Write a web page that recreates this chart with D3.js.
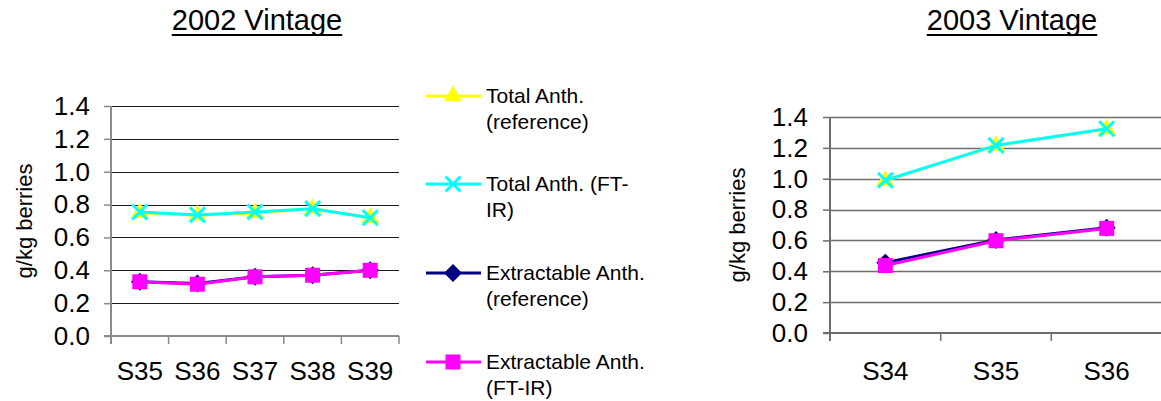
<!DOCTYPE html>
<html>
<head>
<meta charset="utf-8">
<script src="https://cdn.jsdelivr.net/npm/d3@7"></script>
<style>
  html, body { margin: 0; padding: 0; background: #fff; }
  svg text { font-family: "Liberation Sans", Arial, sans-serif; fill: #000; }
</style>
</head>
<body>
<svg id="chart" width="1161" height="401"></svg>
<script>
// Anthocyanin content of grape berries (g/kg), reference method vs FT-IR
const stages2002 = ["S35", "S36", "S37", "S38", "S39"];
const totalRef2002 = [0.75, 0.735, 0.75, 0.775, 0.72];
const totalFtir2002 = [0.755, 0.737, 0.755, 0.775, 0.72];
const extrRef2002 = [0.33, 0.32, 0.36, 0.37, 0.40];
const extrFtir2002 = [0.33, 0.315, 0.36, 0.37, 0.40];

const stages2003 = ["S34", "S35", "S36"];
const totalRef2003 = [0.988, 1.215, 1.322];
const totalFtir2003 = [0.99, 1.216, 1.324];
const extrRef2003 = [0.456, 0.603, 0.682];
const extrFtir2003 = [0.437, 0.598, 0.678];

const yTicks = [0, 0.2, 0.4, 0.6, 0.8, 1.0, 1.2, 1.4];
const legendLines = [["Total Anth.", "(reference)"], ["Total Anth. (FT-", "IR)"], ["Extractable Anth.", "(reference)"], ["Extractable Anth.", "(FT-IR)"]];
const seriesColors = ["#ffff00", "#00ffff", "#000080", "#ff00ff"];
const seriesMarkers = ["triangle", "cross", "diamond", "square"];

const svg = d3.select("#chart");

function drawMarker(g, type, color) {
  if (type === "triangle") {
    g.append("path").attr("d", d3.symbol(d3.symbolTriangle, 140)()).attr("fill", color);
  } else if (type === "cross") {
    const s = 7.5;
    g.append("path").attr("d", `M${-s},${-s}L${s},${s}M${-s},${s}L${s},${-s}`)
      .attr("stroke", color).attr("stroke-width", 3).attr("fill", "none");
  } else if (type === "diamond") {
    const s = 9;
    g.append("path").attr("d", `M0,${-s}L${s},0L0,${s}L${-s},0Z`).attr("fill", color);
  } else if (type === "square") {
    g.append("rect").attr("x", -7.5).attr("y", -7.5).attr("width", 15).attr("height", 15).attr("fill", color);
  }
}

function drawPanel(opts) {
  const { left, right, top, bottom, stages, series, title, titleX, gridColor, gridWidth, axisColor, yLabelX, yTitleX } = opts;
  const g = svg.append("g");
  const x = d3.scaleBand().domain(stages).range([left, right]);
  const y = d3.scaleLinear().domain([0, 1.4]).range([bottom, top]);

  // horizontal gridlines
  g.selectAll("line.grid").data(yTicks.filter(d => d > 0)).join("line")
    .attr("x1", left).attr("x2", right)
    .attr("y1", d => Math.round(y(d)) + 0.5).attr("y2", d => Math.round(y(d)) + 0.5)
    .attr("stroke", gridColor).attr("stroke-width", gridWidth);

  // y axis
  const yAxis = d3.axisLeft(y).tickValues(yTicks).tickFormat(d3.format(".1f")).tickSize(7).tickPadding(14);
  const ya = g.append("g").attr("transform", `translate(${left},0)`).call(yAxis);
  ya.select(".domain").remove();
  ya.selectAll(".tick line").attr("stroke", axisColor).attr("stroke-width", 1.5);
  ya.selectAll(".tick text").attr("font-size", 26).attr("font-family", "Liberation Sans, Arial, sans-serif").attr("fill", "#000").attr("x", yLabelX - left);
  g.append("line").attr("x1", left).attr("x2", left).attr("y1", top).attr("y2", bottom + 8)
    .attr("stroke", axisColor).attr("stroke-width", 2);

  // x axis baseline with category separators
  g.append("line").attr("x1", left - 7).attr("x2", right).attr("y1", bottom).attr("y2", bottom)
    .attr("stroke", axisColor).attr("stroke-width", 2);
  const bounds = stages.map(s => x(s)).concat([right]);
  g.selectAll("line.sep").data(bounds).join("line")
    .attr("x1", d => d).attr("x2", d => d).attr("y1", bottom).attr("y2", bottom + 8)
    .attr("stroke", axisColor).attr("stroke-width", 1.5);
  g.selectAll("text.xl").data(stages).join("text")
    .attr("x", d => x(d) + x.bandwidth() / 2).attr("y", 380)
    .attr("text-anchor", "middle").attr("font-size", 26).text(d => d);

  // y axis title
  g.append("text").attr("transform", `translate(${yTitleX},${(top + bottom) / 2}) rotate(-90)`)
    .attr("text-anchor", "middle").attr("font-size", 22).text("g/kg berries");

  // panel title
  const t = g.append("text").attr("x", titleX).attr("y", 30).attr("text-anchor", "middle")
    .attr("font-size", 29).text(title);
  const bb = t.node().getBBox();
  g.append("line").attr("x1", bb.x).attr("x2", bb.x + bb.width).attr("y1", 35).attr("y2", 35)
    .attr("stroke", "#000").attr("stroke-width", 2);

  const line = d3.line().x((d, i) => x(stages[i]) + x.bandwidth() / 2).y(d => y(d));
  series.forEach((vals, si) => {
    g.append("path").datum(vals).attr("d", line).attr("fill", "none")
      .attr("stroke", seriesColors[si]).attr("stroke-width", 3);
    vals.forEach((v, i) => {
      const m = g.append("g").attr("transform", `translate(${x(stages[i]) + x.bandwidth() / 2},${y(v)})`);
      drawMarker(m, seriesMarkers[si], seriesColors[si]);
    });
  });
}

drawPanel({
  left: 111, right: 399, top: 106, bottom: 336,
  stages: stages2002,
  series: [totalRef2002, totalFtir2002, extrRef2002, extrFtir2002],
  title: "2002 Vintage", titleX: 257,
  gridColor: "#1a1a1a", gridWidth: 1, axisColor: "#8a8a8a",
  yLabelX: 90, yTitleX: 32
});

drawPanel({
  left: 830, right: 1162, top: 117, bottom: 333,
  stages: stages2003,
  series: [totalRef2003, totalFtir2003, extrRef2003, extrFtir2003],
  title: "2003 Vintage", titleX: 1012,
  gridColor: "#6e6e6e", gridWidth: 1.5, axisColor: "#6e6e6e",
  yLabelX: 808, yTitleX: 745
});

// legend
const legend = svg.append("g");
const legendRows = [96, 184, 273, 362];
legendLines.forEach((lines, i) => {
  const row = legend.append("g").attr("transform", `translate(0,${legendRows[i]})`);
  row.append("line").attr("x1", 426).attr("x2", 481).attr("y1", 0).attr("y2", 0)
    .attr("stroke", seriesColors[i]).attr("stroke-width", 3);
  drawMarker(row.append("g").attr("transform", "translate(453,0)"), seriesMarkers[i], seriesColors[i]);
  lines.forEach((txt, j) => {
    row.append("text").attr("x", 486).attr("y", 7 + j * 26).attr("font-size", 21).text(txt);
  });
});
</script>
</body>
</html>
